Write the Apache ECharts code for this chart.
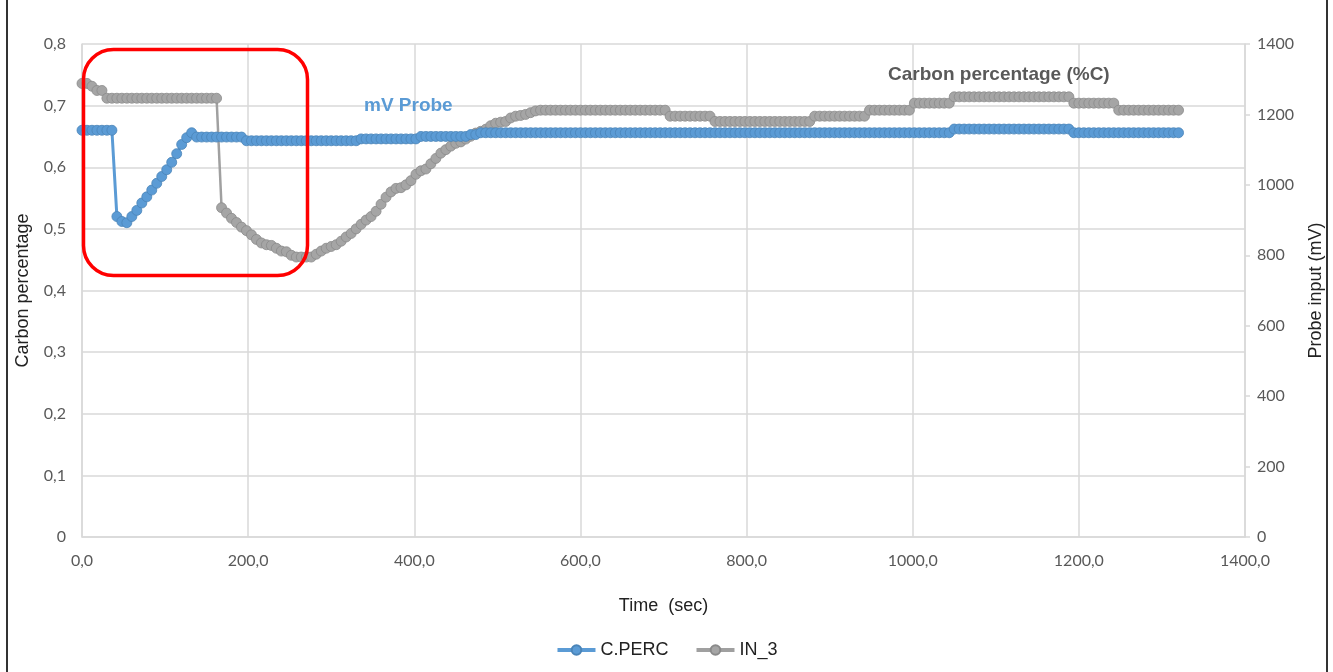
<!DOCTYPE html>
<html>
<head>
<meta charset="utf-8">
<title>Carbon percentage / probe input</title>
<script src="https://cdn.jsdelivr.net/npm/echarts@6.0.0/dist/echarts.min.js"></script>
<style>
  html, body { margin: 0; padding: 0; background: #fff; }
  #chart { width: 1333px; height: 672px; }
  .frame {
    position: absolute; left: 6px; top: -4px; width: 1322px; height: 690px;
    border: 2px solid #333; pointer-events: none; box-sizing: border-box;
  }
</style>
</head>
<body>
<div id="chart"></div>
<div class="frame"></div>
<script>
// sample times (sec)
const timeSec = [
  0, 6, 12, 18, 24, 30, 36, 42, 48, 54, 60, 66, 72, 78, 84, 90, 96, 102, 108, 114,
  120, 126, 132, 138, 144, 150, 156, 162, 168, 174, 180, 186, 192, 198, 204, 210, 216, 222, 228, 234,
  240, 246, 252, 258, 264, 270, 276, 282, 288, 294, 300, 306, 312, 318, 324, 330, 336, 342, 348, 354,
  360, 366, 372, 378, 384, 390, 396, 402, 408, 414, 420, 426, 432, 438, 444, 450, 456, 462, 468, 474,
  480, 486, 492, 498, 504, 510, 516, 522, 528, 534, 540, 546, 552, 558, 564, 570, 576, 582, 588, 594,
  600, 606, 612, 618, 624, 630, 636, 642, 648, 654, 660, 666, 672, 678, 684, 690, 696, 702, 708, 714,
  720, 726, 732, 738, 744, 750, 756, 762, 768, 774, 780, 786, 792, 798, 804, 810, 816, 822, 828, 834,
  840, 846, 852, 858, 864, 870, 876, 882, 888, 894, 900, 906, 912, 918, 924, 930, 936, 942, 948, 954,
  960, 966, 972, 978, 984, 990, 996, 1002, 1008, 1014, 1020, 1026, 1032, 1038, 1044, 1050, 1056, 1062, 1068, 1074,
  1080, 1086, 1092, 1098, 1104, 1110, 1116, 1122, 1128, 1134, 1140, 1146, 1152, 1158, 1164, 1170, 1176, 1182, 1188, 1194,
  1200, 1206, 1212, 1218, 1224, 1230, 1236, 1242, 1248, 1254, 1260, 1266, 1272, 1278, 1284, 1290, 1296, 1302, 1308, 1314,
  1320
]

// C.PERC (left axis, %C)
const cPerc = [
  0.66, 0.66, 0.66, 0.66, 0.66, 0.66, 0.66, 0.52, 0.512, 0.51, 0.52, 0.53, 0.542, 0.552, 0.563, 0.574, 0.585, 0.596, 0.608, 0.622,
  0.637, 0.648, 0.656, 0.649, 0.649, 0.649, 0.649, 0.649, 0.649, 0.649, 0.649, 0.649, 0.649, 0.643, 0.643, 0.643, 0.643, 0.643, 0.643, 0.643,
  0.643, 0.643, 0.643, 0.643, 0.643, 0.643, 0.643, 0.643, 0.643, 0.643, 0.643, 0.643, 0.643, 0.643, 0.643, 0.643, 0.646, 0.646, 0.646, 0.646,
  0.646, 0.646, 0.646, 0.646, 0.646, 0.646, 0.646, 0.646, 0.65, 0.65, 0.65, 0.65, 0.65, 0.65, 0.65, 0.65, 0.65, 0.65, 0.653, 0.653,
  0.656, 0.656, 0.656, 0.656, 0.656, 0.656, 0.656, 0.656, 0.656, 0.656, 0.656, 0.656, 0.656, 0.656, 0.656, 0.656, 0.656, 0.656, 0.656, 0.656,
  0.656, 0.656, 0.656, 0.656, 0.656, 0.656, 0.656, 0.656, 0.656, 0.656, 0.656, 0.656, 0.656, 0.656, 0.656, 0.656, 0.656, 0.656, 0.656, 0.656,
  0.656, 0.656, 0.656, 0.656, 0.656, 0.656, 0.656, 0.656, 0.656, 0.656, 0.656, 0.656, 0.656, 0.656, 0.656, 0.656, 0.656, 0.656, 0.656, 0.656,
  0.656, 0.656, 0.656, 0.656, 0.656, 0.656, 0.656, 0.656, 0.656, 0.656, 0.656, 0.656, 0.656, 0.656, 0.656, 0.656, 0.656, 0.656, 0.656, 0.656,
  0.656, 0.656, 0.656, 0.656, 0.656, 0.656, 0.656, 0.656, 0.656, 0.656, 0.656, 0.656, 0.656, 0.656, 0.656, 0.662, 0.662, 0.662, 0.662, 0.662,
  0.662, 0.662, 0.662, 0.662, 0.662, 0.662, 0.662, 0.662, 0.662, 0.662, 0.662, 0.662, 0.662, 0.662, 0.662, 0.662, 0.662, 0.662, 0.662, 0.656,
  0.656, 0.656, 0.656, 0.656, 0.656, 0.656, 0.656, 0.656, 0.656, 0.656, 0.656, 0.656, 0.656, 0.656, 0.656, 0.656, 0.656, 0.656, 0.656, 0.656,
  0.656
]

// IN_3 (right axis, mV)
const in3 = [
  1288, 1288, 1280, 1268, 1268, 1246, 1246, 1246, 1246, 1246, 1246, 1246, 1246, 1246, 1246, 1246, 1246, 1246, 1246, 1246,
  1246, 1246, 1246, 1246, 1246, 1246, 1246, 1246, 935, 920, 905, 893, 880, 870, 858, 845, 835, 830, 828, 820,
  812, 810, 800, 795, 795, 795, 795, 803, 812, 820, 825, 830, 840, 852, 862, 875, 888, 900, 910, 925,
  945, 965, 980, 990, 992, 1000, 1012, 1030, 1040, 1045, 1060, 1075, 1090, 1100, 1110, 1118, 1122, 1130, 1138, 1147,
  1152, 1158, 1168, 1175, 1178, 1180, 1190, 1195, 1197, 1200, 1205, 1210, 1212, 1212, 1212, 1212, 1212, 1212, 1212, 1212,
  1212, 1212, 1212, 1212, 1212, 1212, 1212, 1212, 1212, 1212, 1212, 1212, 1212, 1212, 1212, 1212, 1212, 1212, 1195, 1195,
  1195, 1195, 1195, 1195, 1195, 1195, 1195, 1180, 1180, 1180, 1180, 1180, 1180, 1180, 1180, 1180, 1180, 1180, 1180, 1180,
  1180, 1180, 1180, 1180, 1180, 1180, 1180, 1195, 1195, 1195, 1195, 1195, 1195, 1195, 1195, 1195, 1195, 1195, 1212, 1212,
  1212, 1212, 1212, 1212, 1212, 1212, 1212, 1232, 1232, 1232, 1232, 1232, 1232, 1232, 1232, 1250, 1250, 1250, 1250, 1250,
  1250, 1250, 1250, 1250, 1250, 1250, 1250, 1250, 1250, 1250, 1250, 1250, 1250, 1250, 1250, 1250, 1250, 1250, 1250, 1232,
  1232, 1232, 1232, 1232, 1232, 1232, 1232, 1232, 1212, 1212, 1212, 1212, 1212, 1212, 1212, 1212, 1212, 1212, 1212, 1212,
  1212
]

const seriesNames = ['C.PERC', 'IN_3']
const axisTextColor = '#595959'
const gridColor = '#d9d9d9'

const myChart = echarts.init(document.getElementById('chart'))

myChart.setOption({
  animation: false,
  color: ['#5B9BD5', '#A5A5A5'],
  textStyle: { fontFamily: 'Liberation Sans' },
  grid: { left: 82, right: 88, top: 44, bottom: 135 },
  legend: {
    data: seriesNames,
    bottom: 8,
    left: 'center',
    itemWidth: 38,
    itemHeight: 12,
    itemGap: 26,
    lineStyle: { width: 4 },
    textStyle: { fontSize: 18, color: '#222', fontFamily: 'Liberation Sans' },
  },
  xAxis: {
    type: 'value',
    min: 0,
    max: 1400,
    interval: 200,
    name: 'Time  (sec)',
    nameLocation: 'middle',
    nameGap: 60,
    nameTextStyle: { fontSize: 18, color: '#222' },
    axisLine: { lineStyle: { color: gridColor, width: 1.5 } },
    axisTick: { show: false },
    splitLine: { show: true, lineStyle: { color: gridColor, width: 1.5 } },
    axisLabel: {
      margin: 16,
      fontSize: 16,
      fontFamily: 'Lato',
      color: axisTextColor,
      formatter: v => v.toFixed(1).replace('.', ','),
    },
  },
  yAxis: [
    {
      type: 'value',
      min: 0,
      max: 0.8,
      interval: 0.1,
      name: 'Carbon percentage',
      nameLocation: 'middle',
      nameRotate: 90,
      nameGap: 50,
      nameTextStyle: { fontSize: 18, color: '#222' },
      axisLine: { show: true, lineStyle: { color: gridColor, width: 1.5 } },
      axisTick: { show: false },
      splitLine: { lineStyle: { color: gridColor, width: 1.5 } },
      axisLabel: {
        margin: 16,
        fontSize: 16,
        fontFamily: 'Lato',
        color: axisTextColor,
        formatter: v => (v === 0 ? '0' : v.toFixed(1).replace('.', ',')),
      },
    },
    {
      type: 'value',
      min: 0,
      max: 1400,
      interval: 200,
      position: 'right',
      name: 'Probe input (mV)',
      nameLocation: 'middle',
      nameRotate: 90,
      nameGap: 62,
      nameTextStyle: { fontSize: 18, color: '#222' },
      axisLine: { show: true, lineStyle: { color: gridColor, width: 1.5 } },
      axisTick: { show: true, length: 5, lineStyle: { color: gridColor, width: 1.5 } },
      splitLine: { show: false },
      axisLabel: {
        margin: 12,
        fontSize: 16,
        fontFamily: 'Lato',
        color: axisTextColor,
        formatter: v => String(v),
      },
    },
  ],
  series: [
    {
      name: seriesNames[0],
      type: 'line',
      yAxisIndex: 0,
      symbol: 'circle',
      symbolSize: 10,
      showAllSymbol: true,
      lineStyle: { width: 3, color: '#5B9BD5' },
      itemStyle: { color: '#5B9BD5', borderColor: '#4a84b8', borderWidth: 0.8 },
      data: timeSec.map((t, i) => [t, cPerc[i]]),
      z: 3,
    },
    {
      name: seriesNames[1],
      type: 'line',
      yAxisIndex: 1,
      symbol: 'circle',
      symbolSize: 10,
      showAllSymbol: true,
      lineStyle: { width: 2.5, color: '#A0A0A0' },
      itemStyle: { color: '#A5A5A5', borderColor: '#8a8a8a', borderWidth: 0.8 },
      data: timeSec.map((t, i) => [t, in3[i]]),
      z: 2,
    },
  ],
  graphic: [
    {
      type: 'rect',
      left: 81,
      top: 47,
      shape: { width: 224, height: 226, r: 30 },
      style: { fill: 'none', stroke: '#ff0000', lineWidth: 3.5 },
      z: 100,
    },
    {
      type: 'text',
      left: 364,
      top: 96,
      style: { text: 'mV Probe', fill: '#5B9BD5', font: 'bold 19px "Liberation Sans"' },
      z: 100,
    },
    {
      type: 'text',
      left: 888,
      top: 65,
      style: { text: 'Carbon percentage (%C)', fill: '#595959', font: 'bold 19px "Liberation Sans"' },
      z: 100,
    },
  ],
})
</script>
</body>
</html>
